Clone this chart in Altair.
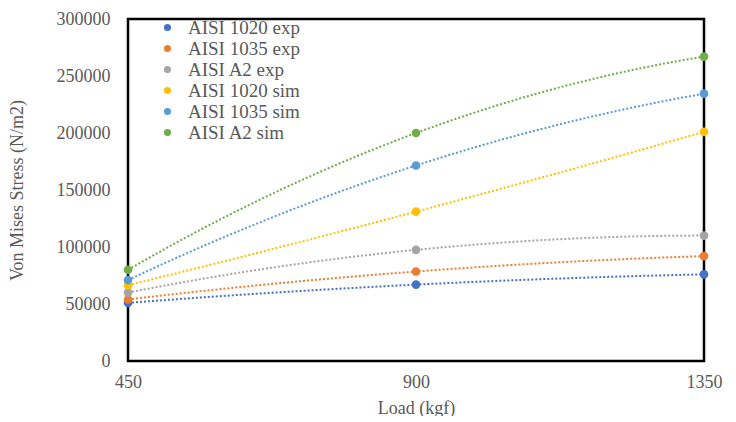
import altair as alt
import pandas as pd

loads = [450, 900, 1350]
series_names = ["AISI 1020 exp", "AISI 1035 exp", "AISI A2 exp",
                "AISI 1020 sim", "AISI 1035 sim", "AISI A2 sim"]
aisi_1020_exp = [51000, 67000, 76000]
aisi_1035_exp = [54000, 78500, 92000]
aisi_a2_exp = [60000, 97500, 110000]
aisi_1020_sim = [66500, 131000, 201000]
aisi_1035_sim = [71000, 171500, 234500]
aisi_a2_sim = [80000, 200000, 267000]
colors = ["#4472C4", "#ED7D31", "#A5A5A5", "#FFC000", "#5B9BD5", "#70AD47"]

values = [aisi_1020_exp, aisi_1035_exp, aisi_a2_exp,
          aisi_1020_sim, aisi_1035_sim, aisi_a2_sim]
rows = []
for name, vals in zip(series_names, values):
    for l, v in zip(loads, vals):
        rows.append({"series": name, "load": l, "stress": v})
df = pd.DataFrame(rows)

FONT = "Liberation Serif"
TXT = "#595959"

xenc = alt.X("load:Q", scale=alt.Scale(domain=[450, 1350], nice=False, zero=False),
             axis=alt.Axis(values=loads, title="Load (kgf)", format="d", grid=False,
                           ticks=False, domain=False, labelPadding=12, titlePadding=8,
                           labelFlush=False,
                           labelFont=FONT, titleFont=FONT, labelFontSize=18, titleFontSize=18,
                           labelColor=TXT, titleColor=TXT, titleFontWeight="normal"))
yenc = alt.Y("stress:Q", scale=alt.Scale(domain=[0, 300000], nice=False),
             axis=alt.Axis(values=[0, 50000, 100000, 150000, 200000, 250000, 300000],
                           title="Von Mises Stress (N/m2)", format="d", grid=False,
                           ticks=False, domain=False, labelPadding=18, titlePadding=30,
                           labelFlush=False,
                           labelFont=FONT, titleFont=FONT, labelFontSize=18, titleFontSize=18,
                           labelColor=TXT, titleColor=TXT, titleFontWeight="normal"))
cenc = alt.Color("series:N", scale=alt.Scale(domain=series_names, range=colors),
                 sort=series_names,
                 legend=alt.Legend(title=None, orient="none", legendX=30, legendY=-1,
                                   labelFont=FONT, labelFontSize=19, labelColor=TXT,
                                   symbolType="circle", symbolSize=50, rowPadding=1,
                                   labelOffset=11, symbolStrokeWidth=0))

base = alt.Chart(df)
lines = base.transform_regression("load", "stress", groupby=["series"], method="poly",
                                  order=2, extent=[450, 1350]).mark_line(
    strokeDash=[2, 2], strokeWidth=2).encode(x=xenc, y=yenc, color=cenc,
                                             detail="series:N")
points = base.mark_circle(size=75, opacity=1).encode(x=xenc, y=yenc, color=cenc)

chart = alt.layer(lines, points).properties(
    width=576, height=342,
    autosize=alt.AutoSizeParams(type="none"),
    padding={"left": 120, "top": 11, "right": 20, "bottom": 55},
).configure_view(stroke="#000000", strokeWidth=2.5)

chart.save("out.html", embed_options={"renderer": "svg", "actions": False})
